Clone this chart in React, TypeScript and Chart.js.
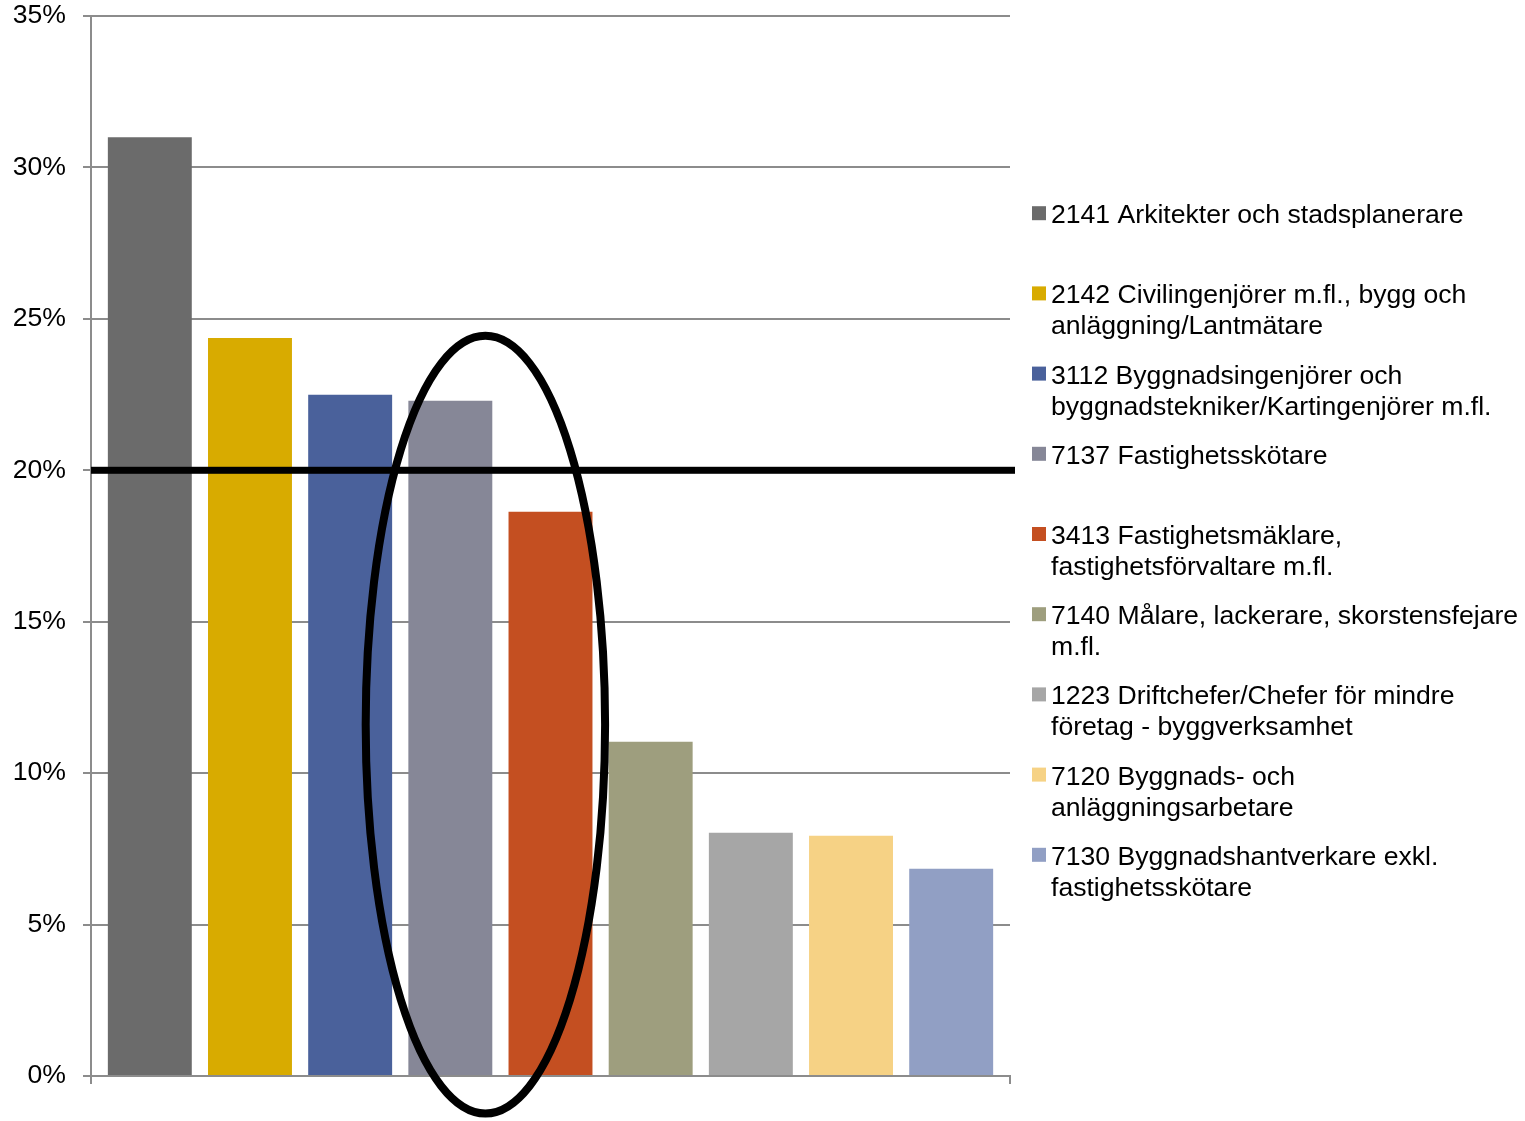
import React, { useEffect, useRef } from 'react';
import { Chart, registerables } from 'chart.js';

Chart.register(...registerables);

const categories: string[] = [''];

const seriesLabels: string[][] = [
  ['2141 Arkitekter och stadsplanerare'],
  ['2142 Civilingenjörer m.fl., bygg och', 'anläggning/Lantmätare'],
  ['3112 Byggnadsingenjörer och', 'byggnadstekniker/Kartingenjörer m.fl.'],
  ['7137 Fastighetsskötare'],
  ['3413 Fastighetsmäklare,', 'fastighetsförvaltare m.fl.'],
  ['7140 Målare, lackerare, skorstensfejare', 'm.fl.'],
  ['1223 Driftchefer/Chefer för mindre', 'företag - byggverksamhet'],
  ['7120 Byggnads- och', 'anläggningsarbetare'],
  ['7130 Byggnadshantverkare exkl.', 'fastighetsskötare'],
];

const seriesValues: number[] = [31.0, 24.37, 22.49, 22.3, 18.63, 11.04, 8.03, 7.93, 6.84];

const seriesColors: string[] = [
  '#6b6b6b',
  '#d8ab00',
  '#4a619b',
  '#868797',
  '#c44f21',
  '#9e9e7e',
  '#a6a6a6',
  '#f6d285',
  '#919fc4',
];

const yMin = 0;
const yMax = 35;
const yStep = 5;

const thresholdValue = 20;

// Highlight ellipse (annotation), in data units / bar slots
const ellipseFromSeries = 3;
const ellipseToSeries = 4;
const ellipseCenterFraction = 0.35;
const ellipseXRadiusSlots = 1.195;
const ellipseYCenter = 11.6;
const ellipseYRadius = 12.84;

const FONT_FAMILY = '"Liberation Sans", Arial, Helvetica, sans-serif';
const FONT_SIZE = 26.6;
const GRID_COLOR = '#8c8c8c';

const overlayPlugin = {
  id: 'overlay',
  afterDatasetsDraw(chart: any) {
    const { ctx, chartArea, scales } = chart;
    const y = scales.y;
    ctx.save();
    // threshold line
    const ty = y.getPixelForValue(thresholdValue);
    ctx.fillStyle = '#000000';
    ctx.fillRect(chartArea.left, ty - 3.5, chartArea.right - chartArea.left + 5, 7);

    // ellipse
    const a = chart.getDatasetMeta(ellipseFromSeries).data[0];
    const b = chart.getDatasetMeta(ellipseToSeries).data[0];
    if (a && b) {
      const slot = b.x - a.x;
      const cx = a.x + slot * ellipseCenterFraction;
      const cy = y.getPixelForValue(ellipseYCenter);
      const ry = Math.abs(y.getPixelForValue(ellipseYCenter + ellipseYRadius) - cy);
      const rx = slot * ellipseXRadiusSlots;
      ctx.beginPath();
      ctx.ellipse(cx, cy, rx, ry, 0, 0, Math.PI * 2);
      ctx.lineWidth = 8;
      ctx.strokeStyle = '#000000';
      ctx.stroke();
    }
    ctx.restore();
  },
  afterDraw(chart: any) {
    const { ctx, chartArea } = chart;
    ctx.save();
    ctx.font = `${FONT_SIZE}px ${FONT_FAMILY}`;
    ctx.textBaseline = 'alphabetic';
    ctx.textAlign = 'left';
    const n = seriesLabels.length;
    const centerY = (chartArea.top + chartArea.bottom) / 2;
    const itemGap = 80.2;
    const lineGap = 31;
    for (let i = 0; i < n; i++) {
      const baseline = centerY - 2 + (i - (n - 1) / 2) * itemGap;
      ctx.fillStyle = seriesColors[i];
      ctx.fillRect(chartArea.right + 22, baseline - 17, 14, 14);
      ctx.fillStyle = '#000000';
      seriesLabels[i].forEach((line, j) => {
        ctx.fillText(line, chartArea.right + 41, baseline + j * lineGap);
      });
    }
    ctx.restore();
  },
};

export default function App() {
  const canvasRef = useRef<HTMLCanvasElement | null>(null);

  useEffect(() => {
    if (!canvasRef.current) return;
    const chart = new Chart(canvasRef.current, {
      type: 'bar',
      data: {
        labels: categories,
        datasets: seriesValues.map((v, i) => ({
          label: seriesLabels[i].join(' '),
          data: [v],
          backgroundColor: seriesColors[i],
          borderWidth: 0,
          categoryPercentage: 0.981,
          barPercentage: 0.838,
        })),
      },
      options: {
        animation: false,
        responsive: true,
        maintainAspectRatio: false,
        layout: { padding: { top: 16, right: 515, bottom: 0, left: 0 } },
        plugins: {
          legend: { display: false },
          tooltip: { enabled: false },
        },
        scales: {
          x: {
            ticks: { display: false },
            grid: {
              display: true,
              drawOnChartArea: false,
              drawTicks: true,
              tickLength: 8,
              color: GRID_COLOR,
              lineWidth: 2,
              offset: true,
            },
            border: { display: true, color: GRID_COLOR, width: 2 },
            afterFit: (s: any) => {
              s.height = 45;
              s.paddingLeft = 0;
              s.paddingRight = 0;
            },
          },
          y: {
            min: yMin,
            max: yMax,
            ticks: {
              stepSize: yStep,
              color: '#000000',
              padding: 17,
              font: { family: FONT_FAMILY, size: FONT_SIZE },
              callback: (v: any) => `${v}%`,
            },
            grid: {
              color: GRID_COLOR,
              lineWidth: 2,
              drawTicks: true,
              tickLength: 8,
            },
            border: { display: true, color: GRID_COLOR, width: 2 },
            afterFit: (s: any) => {
              s.width = 91;
              s.paddingTop = 0;
              s.paddingBottom = 0;
            },
          },
        },
      },
      plugins: [overlayPlugin],
    });
    return () => chart.destroy();
  }, []);

  return (
    <div style={{ position: 'absolute', left: 0, top: 0, width: 1525, height: 1121, background: '#fff' }}>
      <canvas ref={canvasRef} />
    </div>
  );
}
